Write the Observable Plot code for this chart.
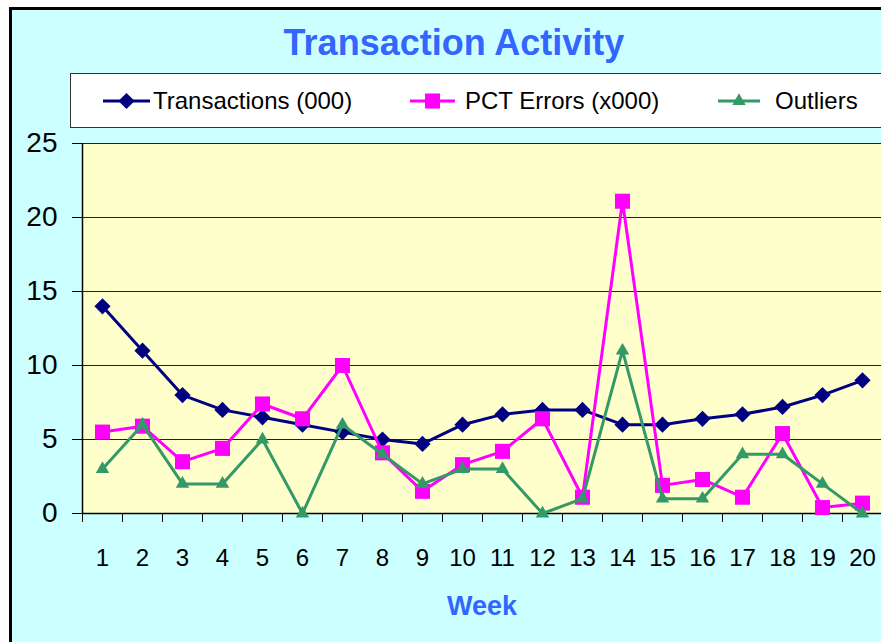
<!DOCTYPE html>
<html><head><meta charset="utf-8">
<script src="https://cdn.jsdelivr.net/npm/d3@7"></script>
<script src="https://cdn.jsdelivr.net/npm/@observablehq/plot@0.6"></script>
<style>
body{margin:0;background:#fff;overflow:hidden;font-family:"Liberation Sans",Arial,sans-serif;}
#page{position:relative;width:881px;height:642px;overflow:hidden;}
#bg{position:absolute;left:9px;top:7px;width:900px;height:700px;background:#ccffff;border-left:3px solid #000;border-top:3px solid #000;}
#title{position:absolute;left:454px;top:43px;transform:translate(-50%,-50%);font-weight:bold;font-size:36px;color:#3366ff;white-space:nowrap;}
#chart{position:absolute;left:0;top:0;}
#legend{position:absolute;left:70px;top:73px;}
#xlabel{position:absolute;left:482px;top:606px;transform:translate(-50%,-50%);font-weight:bold;font-size:27px;color:#3366ff;white-space:nowrap;}
</style></head>
<body>
<div id="page">
  <div id="bg"></div>
  <div id="chart"></div>
  <div id="title">Transaction Activity</div>
  <div id="legend"></div>
  <div id="xlabel">Week</div>
</div>
<script>
const weeks = [1,2,3,4,5,6,7,8,9,10,11,12,13,14,15,16,17,18,19,20];
const transactions = [14,11,8,7,6.5,6,5.5,5,4.7,6,6.7,7,7,6,6,6.4,6.7,7.2,8,9];
const pctErrors = [5.5,5.9,3.5,4.4,7.4,6.4,10,4.1,1.5,3.3,4.2,6.4,1.1,21.1,1.9,2.3,1.1,5.4,0.4,0.7];
const outliers = [3,6,2,2,5,0,6,4,2,3,3,0,1,11,1,1,4,4,2,0];
const yTicks = [0,5,10,15,20,25];
const gridLines = [5,10,15,20,25];
const seriesNames = ["Transactions (000)","PCT Errors (x000)","Outliers"];
const seriesColors = ["#000080","#ff00ff","#339966"];
const seriesSymbols = ["diamond2","square","triangle"];
const seriesR = [7.3,8.5,5];
const seriesValues = [transactions, pctErrors, outliers];

const boundaries = weeks.map(w => w - 0.5).concat([weeks[weeks.length-1] + 0.5]);
const font = '"Liberation Sans", Arial, sans-serif';

const seriesMarks = [];
seriesValues.forEach((vals, s) => {
  const data = weeks.map((w, i) => ({week: w, value: vals[i]}));
  seriesMarks.push(Plot.line(data, {x: "week", y: "value", stroke: seriesColors[s], strokeWidth: 3}));
  seriesMarks.push(Plot.dot(data, {x: "week", y: "value", symbol: seriesSymbols[s], r: seriesR[s], fill: seriesColors[s], stroke: "none"}));
});

const chart = Plot.plot({
  width: 881, height: 642,
  marginTop: 143, marginBottom: 129, marginLeft: 82, marginRight: 0,
  x: {domain: [0.5, 20.5], range: [82, 882]},
  y: {domain: [0, 25]},
  style: {background: "transparent", fontFamily: font, color: "#000", overflow: "visible"},
  marks: [
    Plot.frame({fill: "#ffffcc", stroke: "none"}),
    Plot.ruleY(gridLines, {stroke: "#222", strokeWidth: 1}),
    Plot.axisY({ticks: yTicks, tickSize: 10, tickPadding: 15, fontSize: 28, label: null, stroke: "#000", strokeOpacity: 1}),
    Plot.axisX({ticks: weeks, tickSize: 0, tickPadding: 35, fontSize: 24, label: null}),
    Plot.axisX({ticks: boundaries, tickSize: 9, tickFormat: () => "", label: null, stroke: "#000", strokeOpacity: 1}),
    Plot.ruleX([0.5], {stroke: "#000", strokeWidth: 1.5}),
    Plot.ruleY([0], {stroke: "#000", strokeWidth: 1.5}),
    ...seriesMarks
  ]
});
document.getElementById("chart").appendChild(chart);

// Legend
const legendX = [[33, 80, 83], [340, 385, 395], [648, 690, 705]];
const lsvg = d3.select("#legend").append("svg").attr("width", 830).attr("height", 56);
lsvg.append("rect").attr("x", 0.5).attr("y", 0.5).attr("width", 900).attr("height", 54)
  .attr("fill", "#fff").attr("stroke", "#333").attr("stroke-width", 1);
const symMap = {diamond2: d3.symbolDiamond2, square: d3.symbolSquare, triangle: d3.symbolTriangle};
seriesNames.forEach((name, s) => {
  const [x1, x2, tx] = legendX[s];
  const cy = 28;
  lsvg.append("line").attr("x1", x1).attr("x2", x2).attr("y1", cy).attr("y2", cy)
    .attr("stroke", seriesColors[s]).attr("stroke-width", 3);
  lsvg.append("path").attr("transform", `translate(${(x1+x2)/2},${cy})`)
    .attr("d", d3.symbol(symMap[seriesSymbols[s]], Math.PI * seriesR[s] * seriesR[s])())
    .attr("fill", seriesColors[s]);
  lsvg.append("text").attr("x", tx).attr("y", cy).attr("dy", "0.35em")
    .attr("font-family", font).attr("font-size", 24).attr("fill", "#000").text(name);
});
</script>
</body></html>
